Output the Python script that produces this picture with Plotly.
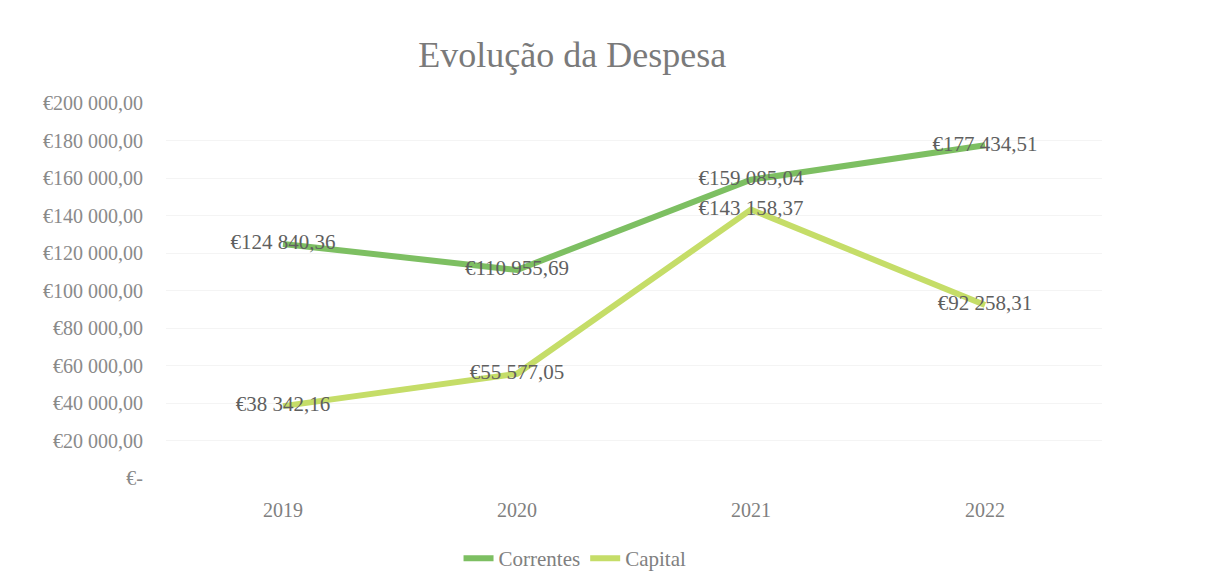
import plotly.graph_objects as go

years = ["2019", "2020", "2021", "2022"]
correntes = [124840.36, 110955.69, 159085.04, 177434.51]
capital = [38342.16, 55577.05, 143158.37, 92258.31]
y_ticks = [0, 20000, 40000, 60000, 80000, 100000, 120000, 140000, 160000, 180000, 200000]
y_tick_labels = ["€-", "€20 000,00", "€40 000,00", "€60 000,00", "€80 000,00", "€100 000,00",
                 "€120 000,00", "€140 000,00", "€160 000,00", "€180 000,00", "€200 000,00"]


def fmt(v):
    s = f"{v:,.2f}"
    return "€" + s.replace(",", " ").replace(".", ",")


FONT = "Liberation Serif, DejaVu Serif, serif"
TXT = "#5f5f5f"

fig = go.Figure()
fig.add_trace(go.Scatter(
    x=years, y=correntes, name="Correntes", mode="lines+text",
    line=dict(color="#7dbf62", width=6),
    text=[fmt(v) for v in correntes], textposition="middle center",
    textfont=dict(family=FONT, size=21, color=TXT),
))
fig.add_trace(go.Scatter(
    x=years, y=capital, name="Capital", mode="lines+text",
    line=dict(color="#c5dd68", width=6),
    text=[fmt(v) for v in capital], textposition="middle center",
    textfont=dict(family=FONT, size=21, color=TXT),
))

fig.update_layout(
    width=1216, height=585,
    paper_bgcolor="white", plot_bgcolor="white",
    margin=dict(l=158, r=122, t=95, b=115),
    title=dict(text="Evolução da Despesa", x=0.464, xanchor="center", y=0.92, yanchor="middle",
               font=dict(family=FONT, size=36, color="#7a7a7a")),
    font=dict(family=FONT, color=TXT),
    showlegend=True,
    legend=dict(orientation="h", x=0.437, xanchor="center", y=-0.16, yanchor="top",
                font=dict(family=FONT, size=21, color="#808080")),
    xaxis=dict(range=[-0.5, 3.5], showgrid=False, showline=False, zeroline=False, ticks="",
               tickfont=dict(family=FONT, size=20, color="#808080"), ticklabelstandoff=18),
    yaxis=dict(range=[0, 200000], tickvals=y_ticks, ticktext=y_tick_labels,
               showgrid=True, gridcolor="#f4f4f4", zeroline=False, showline=False,
               tickfont=dict(family=FONT, size=20, color="#8a8a8a"), ticklabelstandoff=22),
)

fig.write_html("out.html")
